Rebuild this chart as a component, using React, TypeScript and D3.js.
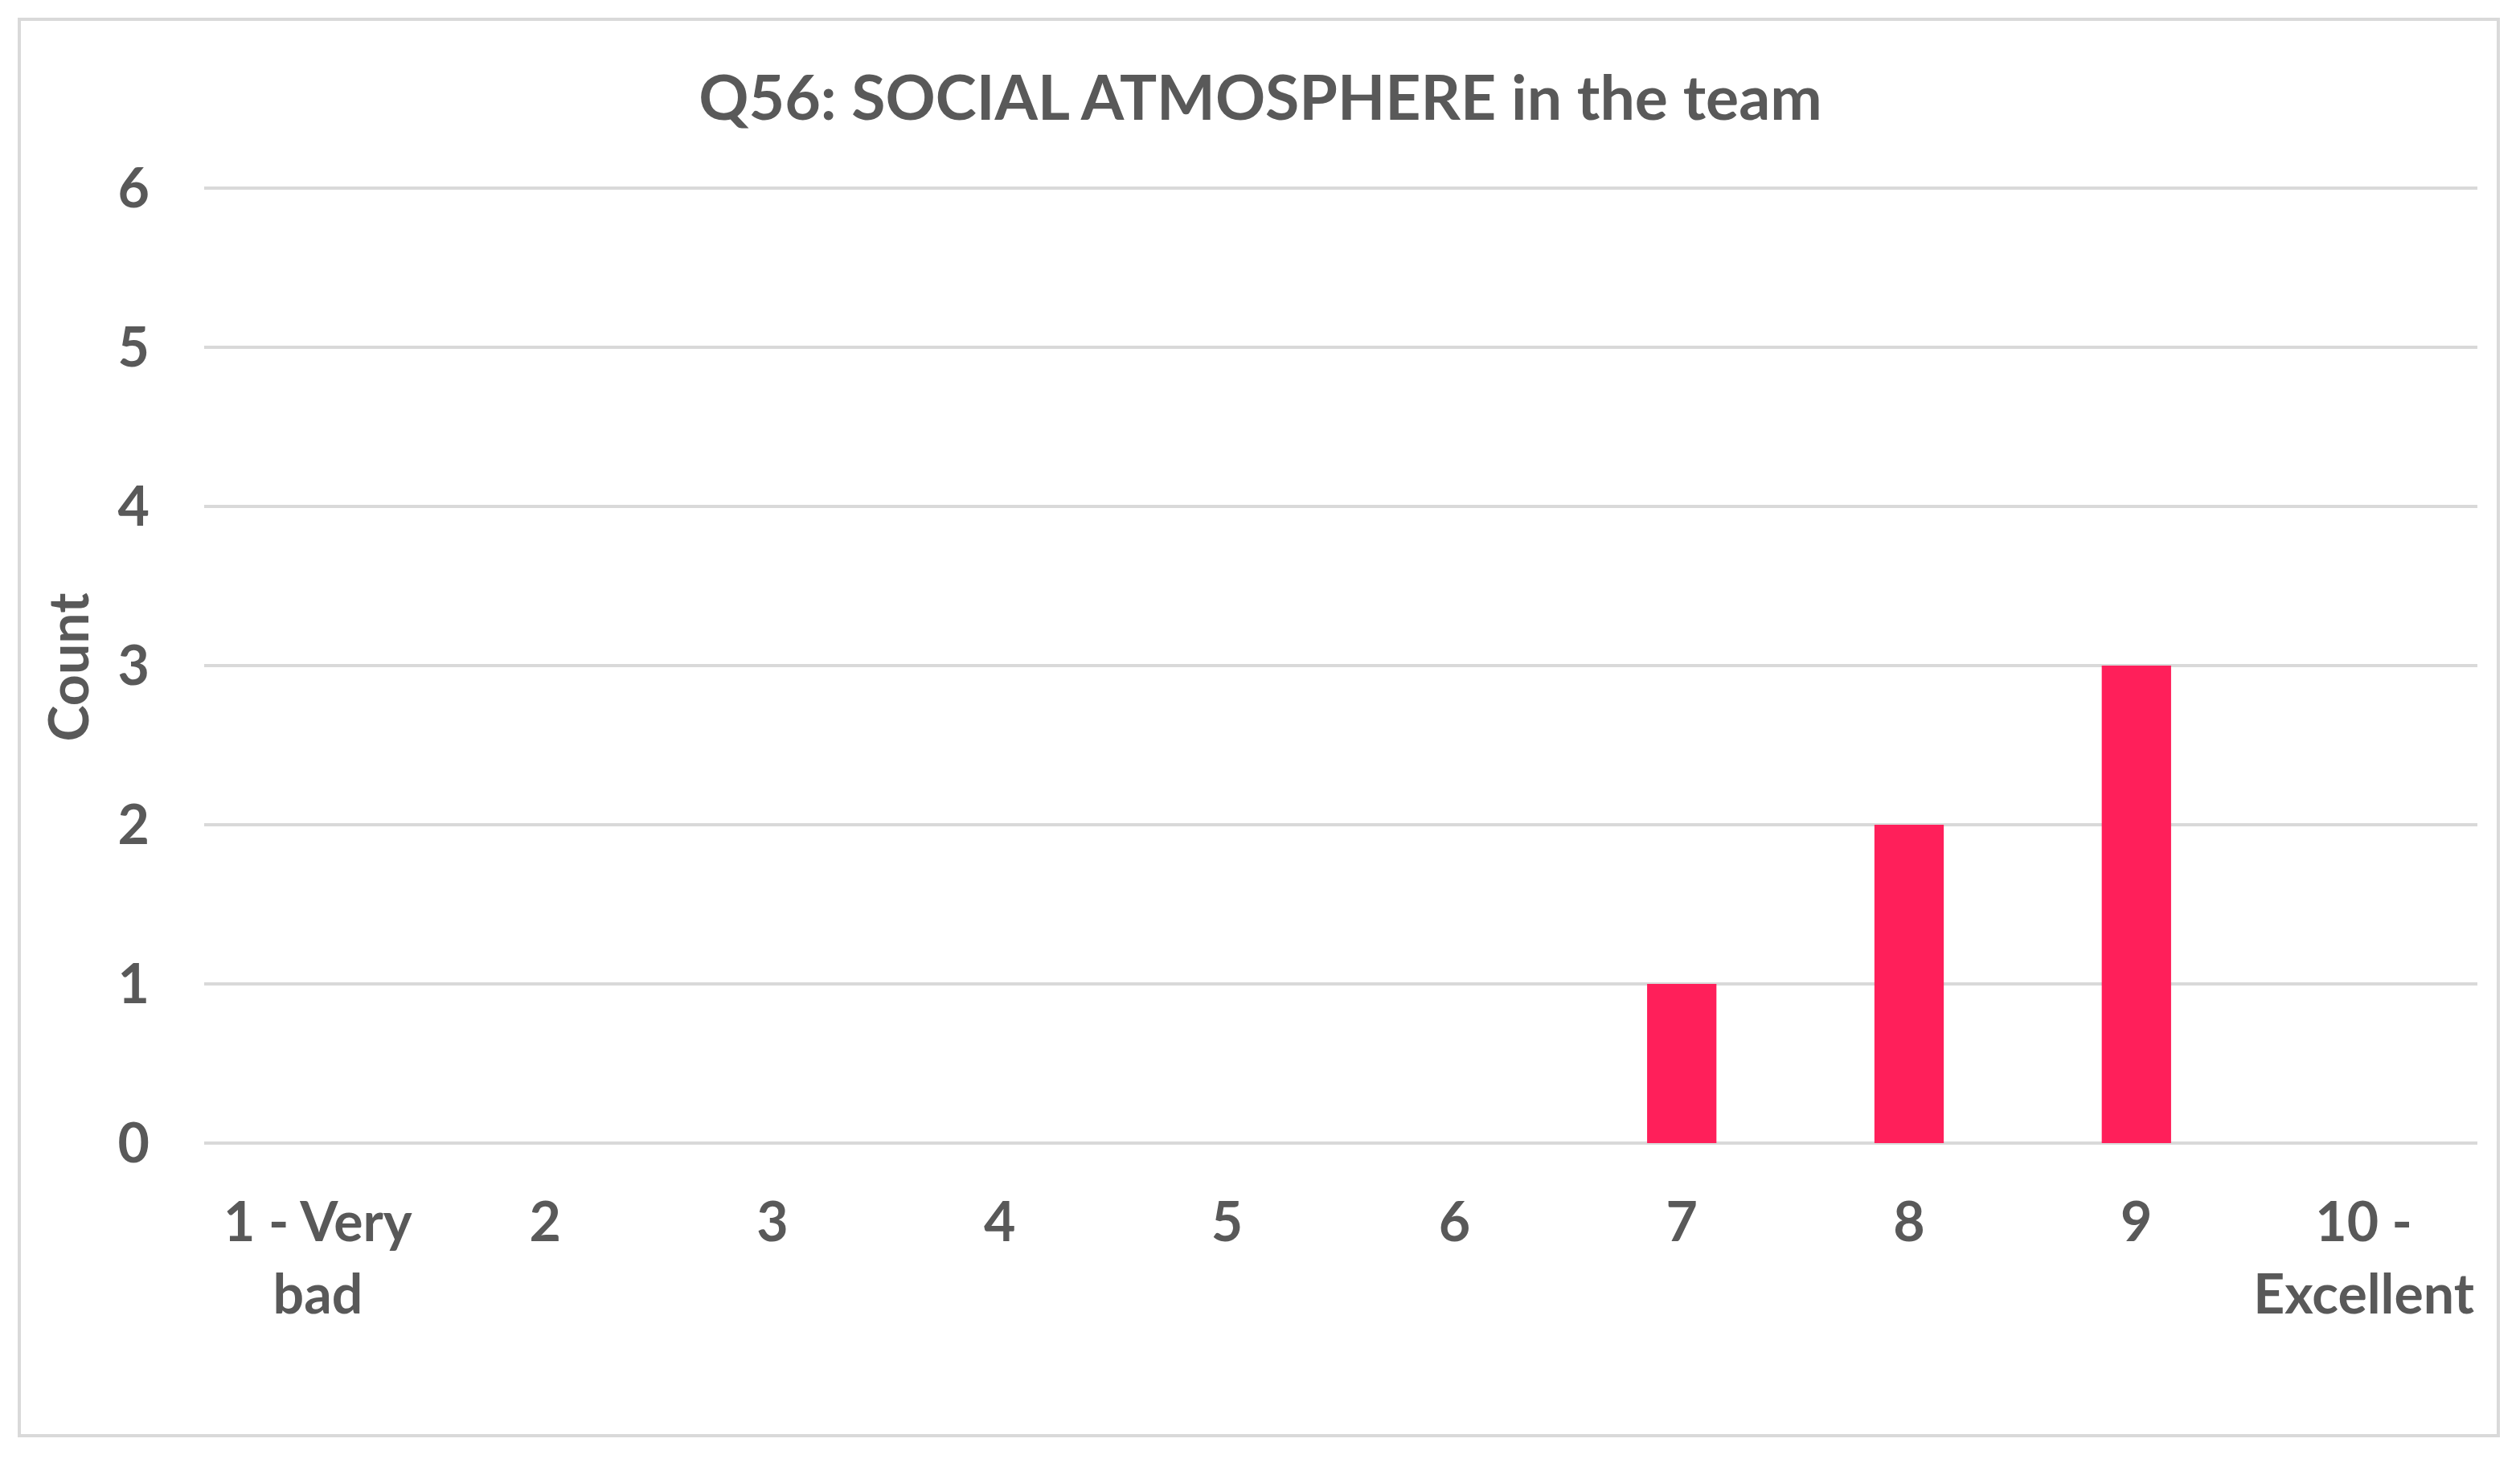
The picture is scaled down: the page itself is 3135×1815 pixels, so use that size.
import * as d3 from "d3";
import React from "react";

const categories = ["1 - Very bad", "2", "3", "4", "5", "6", "7", "8", "9", "10 - Excellent"];
const counts = [0, 0, 0, 0, 0, 0, 1, 2, 3, 0];
const yTicks = [0, 1, 2, 3, 4, 5, 6];
const title = "Q56: SOCIAL ATMOSPHERE in the team";
const yLabel = "Count";

const font = "Lato, 'Open Sans', sans-serif";
const textColor = "#595959";
const gridColor = "#D9D9D9";
const barColor = "#FF1F5A";

// split long labels in two lines like excel does
const labelLines = (s: string): string[] => {
  if (s === "1 - Very bad") return ["1 - Very", "bad"];
  if (s === "10 - Excellent") return ["10 -", "Excellent"];
  return [s];
};

export default function App() {
  const svgWidth = 3135;
  const svgHeight = 1815;
  const margin = { top: 234, right: 53, bottom: 393, left: 254 };
  const w = svgWidth - margin.left - margin.right;
  const h = svgHeight - margin.top - margin.bottom;

  const x = d3.scaleBand().domain(categories).range([0, w]).padding(0);
  const y = d3.scaleLinear().domain([0, 6]).range([h, 0]);
  const barW = x.bandwidth() * 0.305;

  return (
    <svg width={svgWidth} height={svgHeight} style={{ position: "absolute", left: 0, top: 0, background: "#fff" }}>
      <rect x={24} y={24} width={3084} height={1762} fill="#fff" stroke={gridColor} strokeWidth={4} />
      <text x={1568} y={149} textAnchor="middle" fontFamily={font} fontWeight="bold" fontSize={77} fill={textColor}>
        {title}
      </text>
      <g transform={`translate(${margin.left},${margin.top})`}>
        {yTicks.map((t) => (
          <g key={t}>
            <line x1={0} x2={w} y1={y(t)} y2={y(t)} stroke={gridColor} strokeWidth={4} />
            <text x={-68} y={y(t)} dy="0.35em" textAnchor="end" fontFamily={font} fontWeight="bold" fontSize={68} fill={textColor}>
              {t}
            </text>
          </g>
        ))}
        {categories.map((c, i) => (
          <rect key={c} x={(x(c) as number) + x.bandwidth() / 2 - barW / 2} y={y(counts[i])} width={barW} height={h - y(counts[i])} fill={barColor} />
        ))}
        {categories.map((c) => (
          <text key={c} x={(x(c) as number) + x.bandwidth() / 2} y={h + 122} textAnchor="middle" fontFamily={font} fontWeight="bold" fontSize={68} fill={textColor}>
            {labelLines(c).map((l, j) => (
              <tspan key={j} x={(x(c) as number) + x.bandwidth() / 2} dy={j === 0 ? 0 : 90}>{l}</tspan>
            ))}
          </text>
        ))}
      </g>
      <text transform="translate(110,830) rotate(-90)" textAnchor="middle" fontFamily={font} fontWeight="bold" fontSize={68} fill={textColor}>
        {yLabel}
      </text>
    </svg>
  );
}
